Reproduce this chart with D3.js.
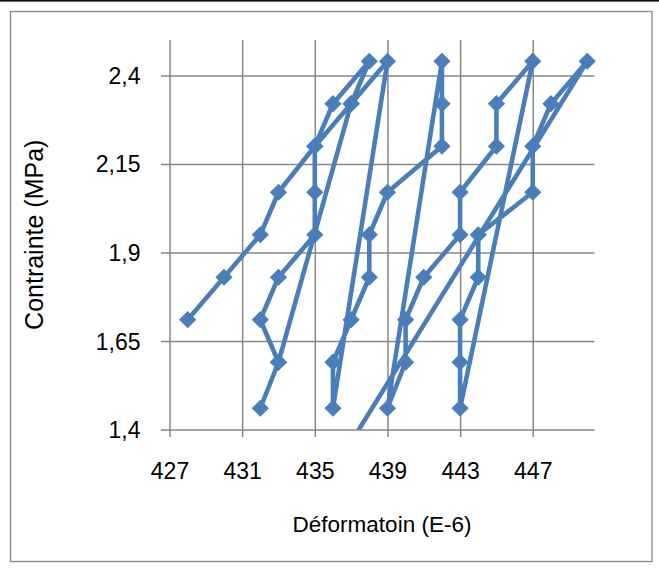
<!DOCTYPE html>
<html>
<head>
<meta charset="utf-8">
<script src="https://cdn.jsdelivr.net/npm/d3@7"></script>
<style>
  html, body { margin: 0; padding: 0; background: #fff; }
  svg { display: block; }
  text { font-family: "Liberation Sans", Arial, sans-serif; fill: #000; }
</style>
</head>
<body>
<svg id="chart" width="659" height="571"></svg>
<script>
// ---- data ----
const strain = [428, 430, 432, 433, 435, 436, 438, 437, 433, 432, 433, 432, 433, 435, 435, 435, 437, 439,
                436, 436, 437, 438, 438, 439, 442, 442, 442,
                439, 440, 440, 441, 443, 443, 445, 445, 447,
                443, 443, 443, 444, 444, 447, 447, 448, 450, 420.5];
const stress = [1.71, 1.83, 1.95, 2.07, 2.2, 2.32, 2.44, 2.32, 1.59, 1.46, 1.59, 1.71, 1.83, 1.95, 2.07, 2.2, 2.32, 2.44,
                1.46, 1.59, 1.71, 1.83, 1.95, 2.07, 2.2, 2.32, 2.44,
                1.46, 1.59, 1.71, 1.83, 1.95, 2.07, 2.2, 2.32, 2.44,
                1.46, 1.59, 1.71, 1.83, 1.95, 2.07, 2.2, 2.32, 2.44, 0];
const xTicks = [427, 431, 435, 439, 443, 447];
const yTicks = [1.4, 1.65, 1.9, 2.15, 2.4];
const xTitle = "Déformatoin (E-6)";
const yTitle = "Contrainte (MPa)";

const points = strain.map((v, i) => ({x: v, y: stress[i]}));

const svg = d3.select("#chart");
const L = 169.5, R = 594.5, T = 40, B = 429.5;
const x = d3.scaleLinear().domain([427, 450.4]).range([L, R]);
const y = d3.scaleLinear().domain([1.4, 2.5]).range([B, T]);
const gridColor = "#878787";
const blue = "#4a7ebb";

// top dark edge and outer frame
svg.append("rect").attr("x", 0).attr("y", 0).attr("width", 659).attr("height", 1.6).attr("fill", "#111");
svg.append("rect").attr("x", 10.5).attr("y", 11.5).attr("width", 641.5).attr("height", 550)
   .attr("fill", "none").attr("stroke", gridColor).attr("stroke-width", 1.3);

// vertical gridlines + outward ticks, labels
const fmt = d => String(d).replace(".", ",");
const gx = svg.append("g").attr("transform", `translate(0,${B})`)
  .call(d3.axisBottom(x).tickValues(xTicks).tickSizeInner(-(B - T)).tickSizeOuter(0).tickFormat(d3.format("d")));
gx.select(".domain").remove();
gx.selectAll(".tick line").attr("stroke", gridColor).attr("stroke-width", 1.5).attr("y2", -(B - T)).attr("y1", 7.5);
gx.selectAll(".tick text").attr("y", 49.5).attr("dy", 0).attr("font-size", 23).attr("font-family", "Liberation Sans, Arial, sans-serif").attr("fill", "#000");

const gy = svg.append("g").attr("transform", `translate(${L},0)`)
  .call(d3.axisLeft(y).tickValues(yTicks).tickSizeInner(-(R - L)).tickSizeOuter(0).tickFormat(fmt));
gy.select(".domain").remove();
gy.selectAll(".tick line").attr("stroke", gridColor).attr("stroke-width", 1.5).attr("x1", -8.5).attr("x2", R - L);
gy.selectAll(".tick text").attr("x", -29).attr("dy", "0.35em").attr("font-size", 23).attr("font-family", "Liberation Sans, Arial, sans-serif").attr("fill", "#000");

// line (clipped to plot area) and markers
svg.append("clipPath").attr("id", "clipB").append("rect")
   .attr("x", L).attr("y", T - 20).attr("width", R - L + 20).attr("height", B - T + 20);
const plot = svg.append("g").attr("clip-path", "url(#clipB)");

const line = d3.line().x(d => x(d.x)).y(d => y(d.y));
plot.append("path").datum(points).attr("d", line)
  .attr("fill", "none").attr("stroke", blue).attr("stroke-width", 4.6)
  .attr("stroke-linejoin", "round").attr("stroke-linecap", "butt");

const sym = d3.symbol().type(d3.symbolSquare).size(125);
plot.selectAll("path.mk").data(points.filter(d => d.y >= 1.4)).join("path")
  .attr("class", "mk").attr("d", sym)
  .attr("transform", d => `translate(${x(d.x)},${y(d.y)}) rotate(45)`)
  .attr("fill", blue).attr("stroke", blue).attr("stroke-width", 1);

// axis titles
svg.append("text").attr("x", (L + R) / 2).attr("y", 532).attr("text-anchor", "middle")
  .attr("font-size", 22.5).text(xTitle);
svg.append("text").attr("transform", `translate(43,${(T + B) / 2}) rotate(-90)`)
  .attr("text-anchor", "middle").attr("font-size", 25).text(yTitle);
</script>
</body>
</html>
